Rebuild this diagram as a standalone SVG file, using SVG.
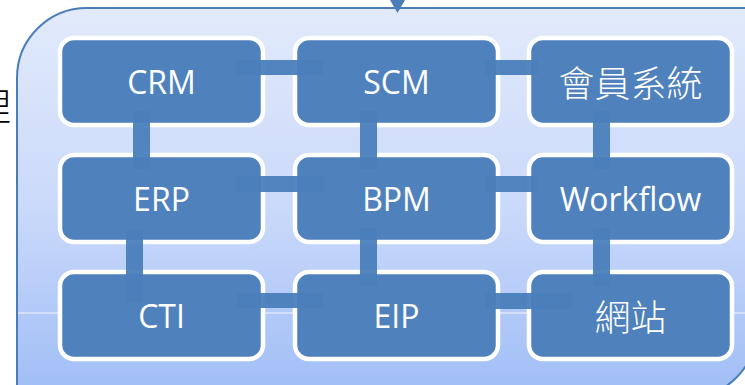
<svg xmlns="http://www.w3.org/2000/svg" width="745" height="385" viewBox="0 0 745 385">
  <defs>
    <linearGradient id="bg" x1="0" y1="0" x2="0" y2="1">
      <stop offset="0" stop-color="#e2eafb"/>
      <stop offset="0.5" stop-color="#cbdafa"/>
      <stop offset="1" stop-color="#9fbdf6"/>
    </linearGradient>
    <style>
      .node rect { fill: #4f81bd; stroke: #ffffff; stroke-width: 4.5; }
      .lat { font-family: "Open Sans", "Liberation Sans", sans-serif; font-size: 32px; fill: #ffffff; text-anchor: middle; }
      .cjk { font-family: "Noto Sans CJK TC", "Noto Sans CJK SC", sans-serif; font-size: 36px; font-weight: 300; fill: #ffffff; text-anchor: middle; }
      .bar { fill: #4a7ebb; opacity: 0.95; }
    </style>
  </defs>
  <rect width="745" height="385" fill="#ffffff"/>
  <text x="11" y="120" font-family="Noto Sans CJK TC, Noto Sans CJK SC, sans-serif" font-size="38" font-weight="300" fill="#000000" text-anchor="end">理</text>
  <g id="container">
    <path d="M17,78 A70,70 0 0 1 87,8 H757 V328 A70,70 0 0 1 687,398 H17 Z" fill="url(#bg)" stroke="#4a7ebb" stroke-width="2"/>
    <line x1="18" y1="313" x2="745" y2="313" stroke="#ffffff" stroke-width="1" opacity="0.85"/>
  </g>
  <polygon id="arrow" points="390,0 405,0 397.5,13" fill="#4a7ebb"/>

  <g id="node-crm" class="node"><rect x="60" y="38" width="203" height="87" rx="14"/><text class="lat" x="161.5" y="94">CRM</text></g>
  <g id="node-scm" class="node"><rect x="295" y="38" width="203" height="87" rx="14"/><text class="lat" x="396.5" y="94">SCM</text></g>
  <g id="node-member" class="node"><rect x="529" y="38" width="203" height="87" rx="14"/><text class="cjk" x="630.5" y="97">會員系統</text></g>
  <g id="node-erp" class="node"><rect x="60" y="155" width="203" height="87" rx="14"/><text class="lat" x="161.5" y="211">ERP</text></g>
  <g id="node-bpm" class="node"><rect x="295" y="155" width="203" height="87" rx="14"/><text class="lat" x="396.5" y="211">BPM</text></g>
  <g id="node-workflow" class="node"><rect x="529" y="155" width="203" height="87" rx="14"/><text class="lat" x="630.5" y="211">Workflow</text></g>
  <g id="node-cti" class="node"><rect x="60" y="272" width="203" height="87" rx="14"/><text class="lat" x="161.5" y="328">CTI</text></g>
  <g id="node-eip" class="node"><rect x="295" y="272" width="203" height="87" rx="14"/><text class="lat" x="396.5" y="328">EIP</text></g>
  <g id="node-web" class="node"><rect x="529" y="272" width="203" height="87" rx="14"/><text class="cjk" x="630.5" y="331">網站</text></g>

  <g id="connectors">
    <rect class="bar" x="236" y="60" width="87" height="15"/>
    <rect class="bar" x="485" y="60" width="53" height="15"/>
    <rect class="bar" x="133" y="111" width="17" height="58"/>
    <rect class="bar" x="360" y="111" width="17" height="58"/>
    <rect class="bar" x="593" y="111" width="17" height="58"/>
    <rect class="bar" x="236" y="176" width="88" height="16"/>
    <rect class="bar" x="485" y="176" width="52" height="16"/>
    <rect class="bar" x="126" y="230" width="17" height="72"/>
    <rect class="bar" x="360" y="228" width="17" height="58"/>
    <rect class="bar" x="593" y="228" width="17" height="58"/>
    <rect class="bar" x="237" y="293" width="86" height="15"/>
    <rect class="bar" x="485" y="293" width="87" height="16"/>
  </g>
</svg>
